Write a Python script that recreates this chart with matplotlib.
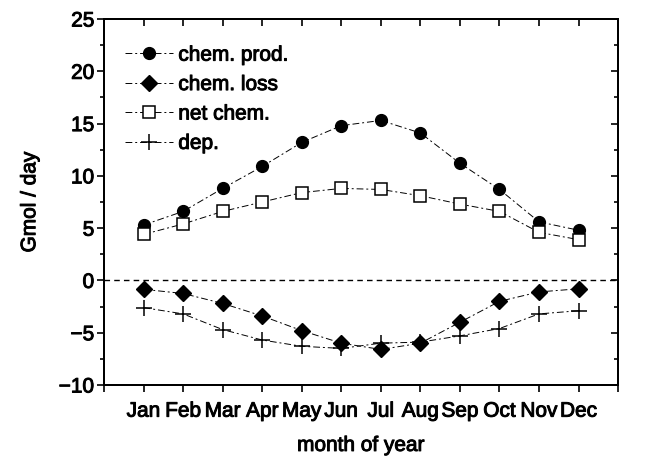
import numpy as np
import matplotlib.pyplot as plt
import matplotlib.patheffects as pe
from matplotlib.ticker import MultipleLocator

plt.rcParams['font.family'] = ['Liberation Sans', 'DejaVu Sans']
plt.rcParams['font.size'] = 15

months = ['Jan', 'Feb', 'Mar', 'Apr', 'May', 'Jun', 'Jul', 'Aug', 'Sep', 'Oct', 'Nov', 'Dec']
chem_prod = [5.3, 6.6, 8.8, 10.9, 13.2, 14.8, 15.3, 14.1, 11.2, 8.7, 5.6, 4.8]
chem_loss = [-0.85, -1.25, -2.2, -3.4, -4.8, -6.0, -6.6, -6.0, -4.0, -2.0, -1.1, -0.8]
net_chem = [4.4, 5.4, 6.6, 7.5, 8.4, 8.8, 8.7, 8.1, 7.3, 6.6, 4.6, 3.9]
dep = [-2.6, -3.2, -4.7, -5.7, -6.3, -6.5, -6.0, -5.9, -5.3, -4.6, -3.2, -2.9]

x = np.arange(1, 13)
bold = [pe.withStroke(linewidth=0.7, foreground='k')]

fig = plt.figure(figsize=(6.51, 4.58), dpi=100)
ax = fig.add_axes([0.1598, 0.1594, 0.7897, 0.7991])

dash = (0, (7, 3, 2, 3))
ax.plot(x, chem_prod, color='k', lw=0.7, ls=dash, marker='o', ms=8.5, label='chem. prod.')
ax.plot(x, chem_loss, color='k', lw=0.7, ls=dash, marker='D', ms=8, label='chem. loss')
ax.plot(x, net_chem, color='k', lw=0.7, ls=dash, marker='s', ms=8, mfc='white',
        mew=1.1, label='net chem.')
ax.plot(x, dep, color='k', lw=0.7, ls=dash, marker='+', ms=11, mew=1.1, label='dep.')
ax.axhline(0, color='k', lw=1.0, ls=(0, (4, 3)))

ax.set_xlim(0, 13)
ax.set_ylim(-10, 25)
ax.set_xticks(np.arange(0, 14))
ax.set_xticklabels([''] + months + [''])
ax.yaxis.set_major_locator(MultipleLocator(5))
ax.yaxis.set_minor_locator(MultipleLocator(2.5))

for s in ax.spines.values():
    s.set_linewidth(1.3)

ax.tick_params(axis='x', which='major', direction='out', length=5, width=1.2,
               labelsize=15, pad=7)
ax.tick_params(axis='y', which='both', direction='out', length=5, width=1.2,
               labelsize=15, pad=2)
ax.tick_params(axis='y', which='minor', length=3)
for lab in ax.get_xticklabels() + ax.get_yticklabels():
    lab.set_path_effects(bold)

# inward ticks on top and right
ax_t = ax.twiny()
ax_t.set_xlim(0, 13)
ax_t.set_xticks(np.arange(0, 14))
ax_t.tick_params(direction='in', length=5, width=1.2, labeltop=False)
ax_r = ax.twinx()
ax_r.set_ylim(-10, 25)
ax_r.yaxis.set_major_locator(MultipleLocator(5))
ax_r.yaxis.set_minor_locator(MultipleLocator(2.5))
ax_r.tick_params(which='both', direction='in', length=5, width=1.2, labelright=False)
ax_r.tick_params(which='minor', length=3)
for a in (ax_t, ax_r):
    for s in a.spines.values():
        s.set_linewidth(1.3)

ax.set_xlabel('month of year', fontsize=15, labelpad=11, path_effects=bold)
ax.set_ylabel('Gmol / day', fontsize=15, labelpad=14, path_effects=bold)

leg = ax.legend(loc='upper left', frameon=False, fontsize=15, handlelength=2.3,
                handletextpad=0.25, labelspacing=0.5, borderaxespad=0.0,
                bbox_to_anchor=(0.025, 0.95))
for t in leg.get_texts():
    t.set_path_effects(bold)

fig.savefig('out.png', dpi=100)
